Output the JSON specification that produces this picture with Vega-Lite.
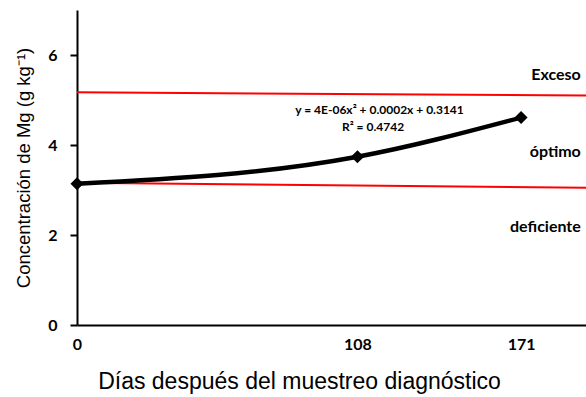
{
  "$schema": "https://vega.github.io/schema/vega-lite/v6.json",
  "width": 509,
  "height": 315,
  "autosize": {"type": "none"},
  "padding": {"left": 77, "top": 10, "right": 0, "bottom": 72},
  "background": "white",
  "config": {
    "view": {"stroke": null},
    "axis": {"grid": false}
  },
  "datasets": {
    "limits": [
      {"limite": "superior", "dias": 0, "mg": 5.17},
      {"limite": "superior", "dias": 196, "mg": 5.10},
      {"limite": "inferior", "dias": 0, "mg": 3.16},
      {"limite": "inferior", "dias": 196, "mg": 3.05}
    ],
    "obs": [
      {"dias": 0, "mg": 3.14},
      {"dias": 108, "mg": 3.74},
      {"dias": 171, "mg": 4.61}
    ],
    "labels": [
      {"texto": "Exceso", "dias": 194, "mg": 5.56},
      {"texto": "óptimo", "dias": 194, "mg": 3.84},
      {"texto": "deficiente", "dias": 194, "mg": 2.18}
    ],
    "eq": [
      {"texto": "y = 4E-06x² + 0.0002x + 0.3141", "dias": 116.5, "mg": 4.78},
      {"texto": "R² = 0.4742", "dias": 114, "mg": 4.4}
    ]
  },
  "layer": [
    {
      "data": {"name": "limits"},
      "mark": {"type": "line", "color": "#ff0000", "strokeWidth": 2},
      "encoding": {
        "x": {
          "field": "dias", "type": "quantitative",
          "scale": {"domain": [0, 196], "nice": false, "zero": false},
          "axis": {
            "values": [0, 108, 171],
            "domainColor": "black", "domainWidth": 2,
            "ticks": false,
            "labelFont": "Lato", "labelFontWeight": "bold", "labelFontSize": 16, "labelColor": "black",
            "labelPadding": 11, "labelFlush": false,
            "title": "Días después del muestreo diagnóstico",
            "titleFont": "Liberation Sans", "titleFontWeight": "normal", "titleFontSize": 23, "titleColor": "black",
            "titleX": 222, "titleY": 56, "titleBaseline": "middle", "titleAlign": "center", "titleAnchor": null
          }
        },
        "y": {
          "field": "mg", "type": "quantitative",
          "scale": {"domain": [0, 7], "nice": false},
          "axis": {
            "values": [0, 2, 4, 6],
            "domainColor": "black", "domainWidth": 2,
            "tickColor": "black", "tickWidth": 2, "tickSize": 7,
            "labelFont": "Lato", "labelFontWeight": "bold", "labelFontSize": 16, "labelColor": "black",
            "labelPadding": 13,
            "title": "Concentración de Mg (g kg⁻¹)",
            "titleFont": "Liberation Sans", "titleFontWeight": "normal", "titleFontSize": 18.5, "titleColor": "black",
            "titlePadding": 14
          }
        },
        "detail": {"field": "limite", "type": "nominal"}
      }
    },
    {
      "data": {"name": "obs"},
      "mark": {"type": "line", "color": "black", "strokeWidth": 4.5, "interpolate": "monotone"},
      "encoding": {
        "x": {"field": "dias", "type": "quantitative"},
        "y": {"field": "mg", "type": "quantitative"}
      }
    },
    {
      "data": {"name": "obs"},
      "mark": {"type": "point", "shape": "diamond", "filled": true, "color": "black", "size": 170, "opacity": 1},
      "encoding": {
        "x": {"field": "dias", "type": "quantitative"},
        "y": {"field": "mg", "type": "quantitative"}
      }
    },
    {
      "data": {"name": "labels"},
      "mark": {"type": "text", "font": "Lato", "fontWeight": "bold", "fontSize": 16, "align": "right", "baseline": "middle", "color": "black"},
      "encoding": {
        "x": {"field": "dias", "type": "quantitative"},
        "y": {"field": "mg", "type": "quantitative"},
        "text": {"field": "texto"}
      }
    },
    {
      "data": {"name": "eq"},
      "mark": {"type": "text", "font": "Lato", "fontWeight": "bold", "fontSize": 12, "align": "center", "baseline": "middle", "color": "black"},
      "encoding": {
        "x": {"field": "dias", "type": "quantitative"},
        "y": {"field": "mg", "type": "quantitative"},
        "text": {"field": "texto"}
      }
    }
  ]
}
